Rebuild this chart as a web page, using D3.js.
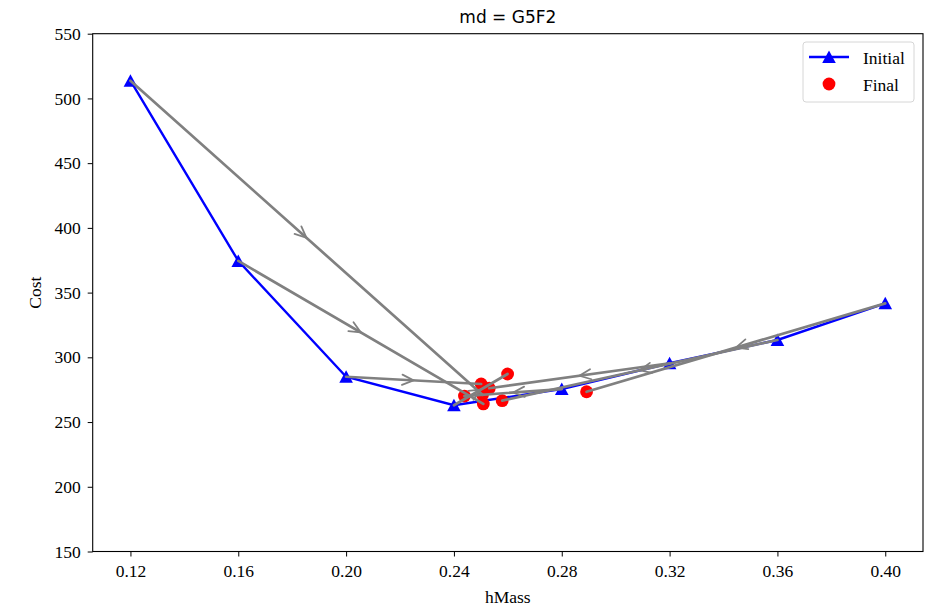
<!DOCTYPE html>
<html>
<head>
<meta charset="utf-8">
<script src="https://cdn.jsdelivr.net/npm/d3@7"></script>
<style>
  html, body { margin: 0; padding: 0; background: #fff; }
  svg { display: block; }
</style>
</head>
<body>
<svg id="chart" width="928" height="609"></svg>
<script>
// Starting hMass values and their costs
const initialMass = [0.12, 0.16, 0.20, 0.24, 0.28, 0.32, 0.36, 0.40];
const initialCost = [513.7, 374.5, 285.0, 263.0, 275.5, 295.4, 313.4, 341.7];

// Where each start ended up after optimisation (same order as above)
const finalMass = [0.2506, 0.2509, 0.2501, 0.2599, 0.2439, 0.2531, 0.2579, 0.2892];
const finalCost = [271.0, 264.0, 279.4, 287.1, 270.1, 276.1, 266.5, 273.4];

const xTicks = [0.12, 0.16, 0.20, 0.24, 0.28, 0.32, 0.36, 0.40];
const yTicks = [150, 200, 250, 300, 350, 400, 450, 500, 550];

const titleText = "md = G5F2";
const xLabel = "hMass";
const yLabel = "Cost";
const legendLabels = ["Initial", "Final"];

const svg = d3.select("#chart");
const plot = { left: 92.7, right: 923, top: 33.7, bottom: 551.5 };
const serif = "'Liberation Serif', 'Times New Roman', serif";
const fs = 17.5;

const x = d3.scaleLinear().domain([0.106, 0.414]).range([plot.left, plot.right]);
const y = d3.scaleLinear().domain([150, 550]).range([plot.bottom, plot.top]);

// Axes
const xAxis = svg.append("g")
  .attr("transform", `translate(0,${plot.bottom})`)
  .call(d3.axisBottom(x).tickValues(xTicks).tickFormat(d3.format(".2f")).tickSize(5).tickPadding(8));
const yAxis = svg.append("g")
  .attr("transform", `translate(${plot.left},0)`)
  .call(d3.axisLeft(y).tickValues(yTicks).tickSize(5).tickPadding(7));
[xAxis, yAxis].forEach(g => {
  g.select(".domain").remove();
  g.selectAll(".tick line").attr("stroke", "#000").attr("stroke-width", 1);
  g.selectAll(".tick text").attr("font-family", serif).attr("font-size", fs).attr("fill", "#000");
});

// Initial curve
const tri = "M0,-6.5L6.8,6L-6.8,6Z";
svg.append("path")
  .datum(initialMass.map((m, i) => [m, initialCost[i]]))
  .attr("fill", "none").attr("stroke", "#0000ff").attr("stroke-width", 2.4)
  .attr("d", d3.line().x(d => x(d[0])).y(d => y(d[1])));
svg.append("g").selectAll("path")
  .data(initialMass.map((m, i) => [m, initialCost[i]]))
  .join("path")
  .attr("d", tri).attr("fill", "#0000ff")
  .attr("transform", d => `translate(${x(d[0])},${y(d[1])})`);

// Final points
svg.append("g").selectAll("circle")
  .data(finalMass.map((m, i) => [m, finalCost[i]]))
  .join("circle")
  .attr("cx", d => x(d[0])).attr("cy", d => y(d[1])).attr("r", 6.4)
  .attr("fill", "#ff0000");

// Trajectories from each start to its final point, with a chevron at the middle
const arrows = svg.append("g").attr("stroke", "#808080").attr("stroke-width", 2.7)
  .attr("fill", "none").attr("stroke-linecap", "round");
initialMass.forEach((m, i) => {
  const x0 = x(m), y0 = y(initialCost[i]);
  const x1 = x(finalMass[i]), y1 = y(finalCost[i]);
  arrows.append("line").attr("x1", x0).attr("y1", y0).attr("x2", x1).attr("y2", y1);
  const mx = (x0 + x1) / 2, my = (y0 + y1) / 2;
  const ang = Math.atan2(y1 - y0, x1 - x0);
  const len = 12.5, spread = 0.42;
  const a1 = ang + Math.PI - spread, a2 = ang + Math.PI + spread;
  arrows.append("path").attr("stroke-width", 1.8)
    .attr("d", `M${mx + len * Math.cos(a1)},${my + len * Math.sin(a1)}L${mx},${my}L${mx + len * Math.cos(a2)},${my + len * Math.sin(a2)}`);
});

// Frame
svg.append("rect")
  .attr("x", plot.left).attr("y", plot.top)
  .attr("width", plot.right - plot.left).attr("height", plot.bottom - plot.top)
  .attr("fill", "none").attr("stroke", "#000").attr("stroke-width", 1.1);

// Title and axis labels
svg.append("text").attr("x", (plot.left + plot.right) / 2).attr("y", 23)
  .attr("text-anchor", "middle").attr("font-family", "'DejaVu Sans', sans-serif")
  .attr("font-size", 17).text(titleText);
svg.append("text").attr("x", (plot.left + plot.right) / 2).attr("y", 603)
  .attr("text-anchor", "middle").attr("font-family", serif).attr("font-size", fs).text(xLabel);
svg.append("text").attr("transform", `translate(41,${(plot.top + plot.bottom) / 2}) rotate(-90)`)
  .attr("text-anchor", "middle").attr("font-family", serif).attr("font-size", fs).text(yLabel);

// Legend
const lg = svg.append("g").attr("transform", "translate(803,42)");
lg.append("rect").attr("width", 111).attr("height", 60).attr("rx", 3)
  .attr("fill", "#fff").attr("fill-opacity", 0.8).attr("stroke", "#d6d6d6");
lg.append("line").attr("x1", 6).attr("x2", 46).attr("y1", 15).attr("y2", 15)
  .attr("stroke", "#0000ff").attr("stroke-width", 2.4);
lg.append("path").attr("d", tri).attr("fill", "#0000ff").attr("transform", "translate(26,15)");
lg.append("circle").attr("cx", 26).attr("cy", 42).attr("r", 6.4).attr("fill", "#ff0000");
lg.selectAll("text.lab").data(legendLabels).join("text")
  .attr("x", 60).attr("y", (d, i) => 22 + i * 27)
  .attr("font-family", serif).attr("font-size", fs).text(d => d);
</script>
</body>
</html>
